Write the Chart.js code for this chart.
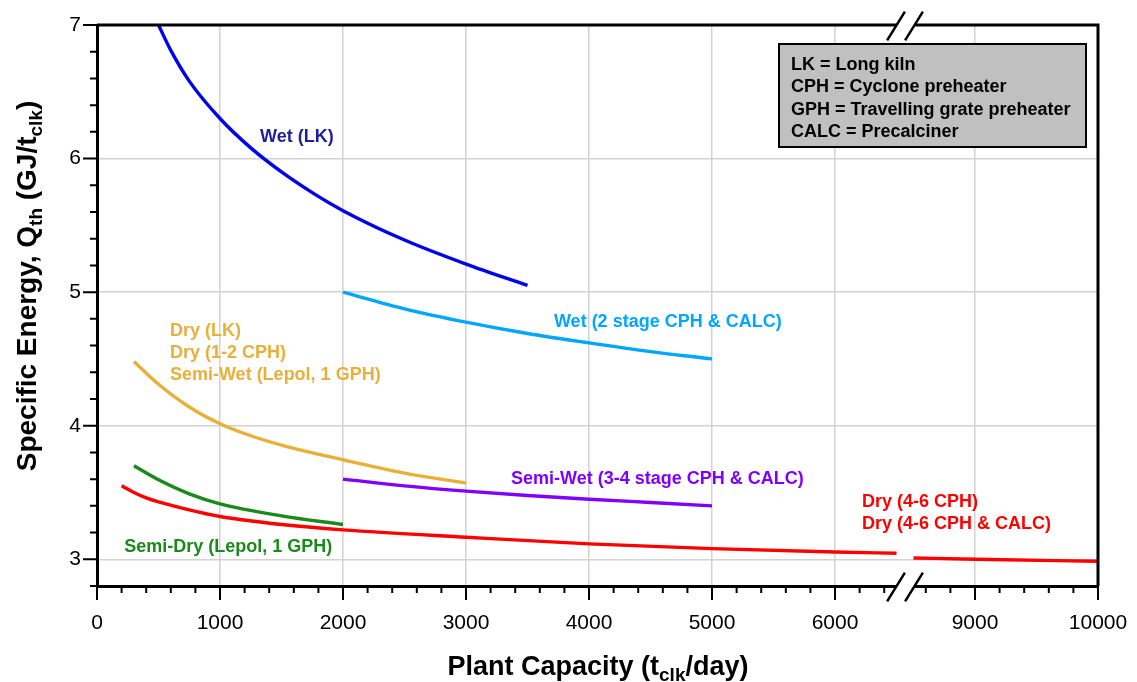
<!DOCTYPE html>
<html>
<head>
<meta charset="utf-8">
<script src="https://cdn.jsdelivr.net/npm/chart.js@4.4.0/dist/chart.umd.min.js"></script>
<style>
  html, body { margin: 0; padding: 0; background: #fff; }
</style>
</head>
<body>
<canvas id="myChart" width="1137" height="682"></canvas>
<script>
// ---- data ----
const wetLkX = [500, 600, 750, 1000, 1250, 1500, 1750, 2000, 2500, 3000, 3500];
const wetLkY = [7.00, 6.81, 6.58, 6.30, 6.08, 5.90, 5.745, 5.61, 5.39, 5.21, 5.05];

const wetCphX = [2000, 2500, 3000, 3500, 4000, 4500, 5000];
const wetCphY = [5.00, 4.875, 4.775, 4.69, 4.62, 4.555, 4.50];

const dryLkX = [300, 500, 750, 1000, 1250, 1500, 2000, 2500, 3000];
const dryLkY = [4.48, 4.31, 4.14, 4.015, 3.925, 3.855, 3.745, 3.645, 3.57];

const semiDryX = [300, 500, 750, 1000, 1500, 2000];
const semiDryY = [3.70, 3.595, 3.49, 3.415, 3.325, 3.26];

const semiWetX = [2000, 2500, 3000, 3500, 4000, 4500, 5000];
const semiWetY = [3.60, 3.55, 3.51, 3.478, 3.45, 3.425, 3.40];

// red curve, split by the axis break
const dryCphLoX = [200, 300, 400, 500, 750, 1000, 1500, 2000, 3000, 4000, 5000, 6000, 6500];
const dryCphLoY = [3.55, 3.50, 3.46, 3.43, 3.37, 3.32, 3.26, 3.22, 3.165, 3.115, 3.08, 3.055, 3.045];
const dryCphHiX = [8500, 9000, 10000];
const dryCphHiY = [3.01, 3.00, 2.985];

const xMajorTicks = [0, 1000, 2000, 3000, 4000, 5000, 6000, 9000, 10000];
const yMajorTicks = [3, 4, 5, 6, 7];

const legendLines = [
  'LK = Long kiln',
  'CPH = Cyclone preheater',
  'GPH = Travelling grate preheater',
  'CALC = Precalciner'
];

// ---- broken x axis: 6500..8500 squeezed into a small gap ----
const BREAK_LO = 6500, BREAK_HI = 8500, BREAK_GAP = 138;

function squeeze(v) {
  if (v <= BREAK_LO) return v;
  if (v >= BREAK_HI) return v - (BREAK_HI - BREAK_LO) + BREAK_GAP;
  return BREAK_LO + (v - BREAK_LO) / (BREAK_HI - BREAK_LO) * BREAK_GAP;
}
function unsqueeze(d) {
  if (d <= BREAK_LO) return d;
  if (d >= BREAK_LO + BREAK_GAP) return d + (BREAK_HI - BREAK_LO) - BREAK_GAP;
  return BREAK_LO + (d - BREAK_LO) / BREAK_GAP * (BREAK_HI - BREAK_LO);
}

class BrokenScale extends Chart.LinearScale {
  getPixelForValue(value) {
    if (value === null || value === undefined || isNaN(value)) return NaN;
    const lo = squeeze(this.min), hi = squeeze(this.max);
    return this.getPixelForDecimal((squeeze(value) - lo) / (hi - lo));
  }
  getValueForPixel(pixel) {
    const lo = squeeze(this.min), hi = squeeze(this.max);
    return unsqueeze(lo + this.getDecimalForPixel(pixel) * (hi - lo));
  }
}
BrokenScale.id = 'broken';
BrokenScale.defaults = Chart.LinearScale.defaults;
Chart.register(BrokenScale);

function pts(xs, ys) {
  return xs.map((x, i) => ({ x: x, y: ys[i] }));
}

function line(label, xs, ys, color) {
  return {
    label: label,
    data: pts(xs, ys),
    borderColor: color,
    borderWidth: 3.4,
    pointRadius: 0,
    fill: false,
    cubicInterpolationMode: 'monotone'
  };
}

const FONT = '"Liberation Sans", Arial, sans-serif';

// curve labels, placed in data coordinates (left edge, baseline)
const curveLabels = [
  { text: 'Wet (LK)', x: 1325, y: 6.126, color: '#1e1e9e' },
  { text: 'Wet (2 stage CPH & CALC)', x: 3715, y: 4.741, color: '#00a6ff' },
  { text: 'Dry (LK)', x: 593, y: 4.672, color: '#e8b038' },
  { text: 'Dry (1-2 CPH)', x: 593, y: 4.505, color: '#e8b038' },
  { text: 'Semi-Wet (Lepol, 1 GPH)', x: 593, y: 4.342, color: '#e8b038' },
  { text: 'Semi-Dry (Lepol, 1 GPH)', x: 222, y: 3.052, color: '#1a8a1a' },
  { text: 'Semi-Wet (3-4 stage CPH & CALC)', x: 3366, y: 3.560, color: '#8000ff' },
  { text: 'Dry (4-6 CPH)', x: 6220, y: 3.388, color: '#ff0000' },
  { text: 'Dry (4-6 CPH & CALC)', x: 6220, y: 3.223, color: '#ff0000' }
];

function drawParts(ctx, parts, x, y) {
  // parts: [text, size, dy]; drawn centred on x
  let total = 0;
  parts.forEach(p => {
    ctx.font = 'bold ' + p[1] + 'px ' + FONT;
    total += ctx.measureText(p[0]).width;
  });
  let cx = x - total / 2;
  ctx.textAlign = 'left';
  ctx.textBaseline = 'alphabetic';
  parts.forEach(p => {
    ctx.font = 'bold ' + p[1] + 'px ' + FONT;
    ctx.fillText(p[0], cx, y + p[2]);
    cx += ctx.measureText(p[0]).width;
  });
}

const decorPlugin = {
  id: 'decor',
  afterDatasetsDraw(chart) {
    const ctx = chart.ctx;
    const xs = chart.scales.x, ys = chart.scales.y;
    ctx.save();
    ctx.font = 'bold 18px ' + FONT;
    ctx.textAlign = 'left';
    ctx.textBaseline = 'alphabetic';
    curveLabels.forEach(l => {
      ctx.fillStyle = l.color;
      ctx.fillText(l.text, xs.getPixelForValue(l.x), ys.getPixelForValue(l.y));
    });

    // abbreviation box
    ctx.fillStyle = '#c0c0c0';
    ctx.fillRect(779, 44, 307, 103);
    ctx.strokeStyle = '#000';
    ctx.lineWidth = 2;
    ctx.strokeRect(779, 44, 307, 103);
    ctx.fillStyle = '#000';
    legendLines.forEach((t, i) => {
      ctx.fillText(t, 791, 69.5 + i * 22.5);
    });
    ctx.restore();
  },
  afterDraw(chart) {
    const ctx = chart.ctx;
    const a = chart.chartArea;
    const xs = chart.scales.x, ys = chart.scales.y;
    ctx.save();
    ctx.strokeStyle = '#000';

    // top and right frame
    ctx.lineWidth = 3;
    ctx.beginPath();
    ctx.moveTo(a.left, a.top);
    ctx.lineTo(a.right, a.top);
    ctx.lineTo(a.right, a.bottom);
    ctx.stroke();

    // tick marks
    ctx.lineWidth = 2;
    ctx.beginPath();
    for (let v = 0; v <= 10000; v += 200) {
      if (v > BREAK_LO && v < BREAK_HI) continue;
      const px = xs.getPixelForValue(v);
      const len = v % 1000 === 0 ? 14 : 7;
      ctx.moveTo(px, a.bottom);
      ctx.lineTo(px, a.bottom + len);
    }
    for (let k = 14; k <= 35; k++) {
      const py = ys.getPixelForValue(k / 5);
      const len = k % 5 === 0 ? 14 : 7;
      ctx.moveTo(a.left, py);
      ctx.lineTo(a.left - len, py);
    }
    ctx.stroke();

    // axis break marks, top and bottom
    const b1 = xs.getPixelForValue(BREAK_LO) - 0.5;
    const b2 = xs.getPixelForValue(BREAK_HI) + 0.5;
    [a.top + 1, a.bottom + 1].forEach(cy => {
      const hx = 8.9, hy = 14.4;
      ctx.fillStyle = '#fff';
      ctx.beginPath();
      ctx.moveTo(b1 - hx, cy + hy);
      ctx.lineTo(b1 + hx, cy - hy);
      ctx.lineTo(b2 + hx, cy - hy);
      ctx.lineTo(b2 - hx, cy + hy);
      ctx.closePath();
      ctx.fill();
      ctx.lineWidth = 2.5;
      ctx.beginPath();
      ctx.moveTo(b1 - hx, cy + hy);
      ctx.lineTo(b1 + hx, cy - hy);
      ctx.moveTo(b2 - hx, cy + hy);
      ctx.lineTo(b2 + hx, cy - hy);
      ctx.stroke();
    });

    // axis titles with subscripts
    ctx.fillStyle = '#000';
    drawParts(ctx, [['Plant Capacity (t', 27, 0], ['clk', 19, 6], ['/day)', 27, 0]], 598, 675);
    ctx.translate(36, 286);
    ctx.rotate(-Math.PI / 2);
    drawParts(ctx, [['Specific Energy, Q', 28, 0], ['th', 19, 6], [' (GJ/t', 28, 0], ['clk', 19, 6], [')', 28, 0]], 0, 0);
    ctx.restore();
  }
};

const data = {
  datasets: [
    line('Wet (LK)', wetLkX, wetLkY, '#0000f0'),
    line('Wet (2 stage CPH & CALC)', wetCphX, wetCphY, '#00a6ff'),
    line('Dry (LK) / Dry (1-2 CPH) / Semi-Wet (Lepol, 1 GPH)', dryLkX, dryLkY, '#e8b038'),
    line('Semi-Dry (Lepol, 1 GPH)', semiDryX, semiDryY, '#1a8a1a'),
    line('Semi-Wet (3-4 stage CPH & CALC)', semiWetX, semiWetY, '#8000ff'),
    line('Dry (4-6 CPH) / Dry (4-6 CPH & CALC)', dryCphLoX, dryCphLoY, '#ff0000'),
    line('Dry (4-6 CPH) / Dry (4-6 CPH & CALC), beyond break', dryCphHiX, dryCphHiY, '#ff0000')
  ]
};

const config = {
  type: 'line',
  data: data,
  options: {
    responsive: false,
    animation: false,
    layout: { padding: { top: 25, right: 39, left: 0, bottom: 0 } },
    plugins: {
      legend: { display: false },
      tooltip: { enabled: false }
    },
    scales: {
      x: {
        type: 'broken',
        min: 0,
        max: 10000,
        afterBuildTicks: s => { s.ticks = xMajorTicks.map(v => ({ value: v })); },
        afterFit: s => { s.height = 96; s.paddingLeft = 0; s.paddingRight = 0; },
        grid: {
          drawTicks: false,
          lineWidth: 1.5,
          color: c => (c.tick && c.tick.value > 0 && c.tick.value < 10000) ? '#d2d2d2' : 'rgba(0,0,0,0)'
        },
        border: { display: true, color: '#000', width: 3 },
        ticks: {
          autoSkip: false,
          maxRotation: 0,
          padding: 25,
          color: '#000',
          font: { family: FONT, size: 21 },
          callback: v => String(v)
        }
      },
      y: {
        min: 2.8,
        max: 7,
        afterBuildTicks: s => { s.ticks = yMajorTicks.map(v => ({ value: v })); },
        afterFit: s => { s.width = 97; s.paddingTop = 0; s.paddingBottom = 0; },
        grid: {
          drawTicks: false,
          lineWidth: 1.5,
          color: c => (c.tick && c.tick.value < 7) ? '#d2d2d2' : 'rgba(0,0,0,0)'
        },
        border: { display: true, color: '#000', width: 3 },
        ticks: {
          autoSkip: false,
          padding: 16,
          color: '#000',
          font: { family: FONT, size: 21 },
          callback: v => String(v)
        }
      }
    }
  },
  plugins: [decorPlugin]
};

const myChart = new Chart(document.getElementById('myChart'), config);
</script>
</body>
</html>
